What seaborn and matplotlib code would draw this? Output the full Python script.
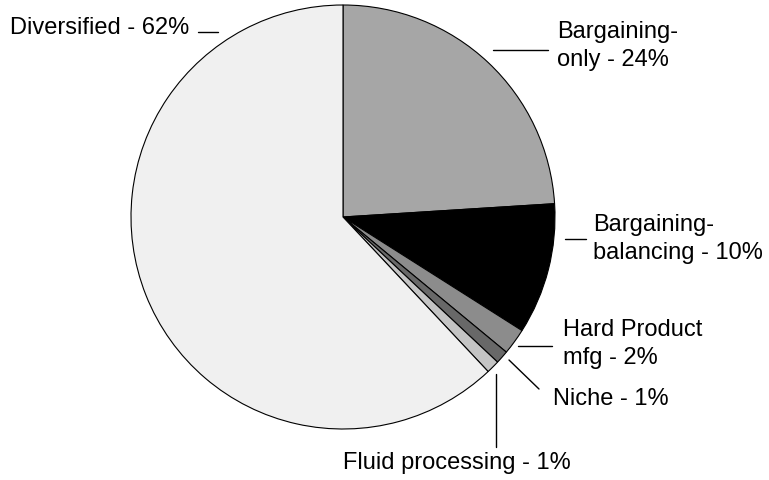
import matplotlib
matplotlib.use("Agg")
import matplotlib.pyplot as plt
import seaborn as sns

# Dados
categorias = ["Bargaining-\nonly", "Bargaining-\nbalancing", "Hard Product\nmfg",
              "Niche", "Fluid processing", "Diversified"]
percentuais = [24, 10, 2, 1, 1, 62]
cores = ["#a6a6a6", "#000000", "#8c8c8c", "#686868", "#c4c4c4", "#f0f0f0"]

sns.set_theme(style="white")
plt.rcParams["font.family"] = ["Liberation Sans", "DejaVu Sans"]

W, H = 769, 481
cx, cy, r = 343, 218, 212  # centro e raio em pixels


def px(x, y):
    # converte pixel da imagem para coordenadas de dados
    return (x - cx) / r, (cy - y) / r


fig = plt.figure(figsize=(W / 100, H / 100), dpi=100)
ax = fig.add_axes([0, 0, 1, 1])

ax.pie(percentuais, colors=cores, startangle=90, counterclock=False,
       wedgeprops=dict(edgecolor="black", linewidth=0.8))

ax.set_xlim(-cx / r, (W - cx) / r)
ax.set_ylim(-(H - cy) / r, cy / r)
ax.set_aspect("equal")
ax.axis("off")

# posições dos rótulos (texto, linha)
layout = [
    ((557, 46), ((493, 51), (548, 51))),
    ((593, 239), ((565, 240), (586, 240))),
    ((563, 344), ((518, 347), (552, 347))),
    ((553, 399), ((509, 361), (539, 390))),
    ((343, 463), ((496, 375), (496, 448))),
    ((10, 28), ((198, 33), (218, 33))),
]

for nome, pct, ((tx, ty), (p1, p2)) in zip(categorias, percentuais, layout):
    ax.text(*px(tx, ty), f"{nome} - {pct}%", fontsize=17, ha="left", va="center",
            linespacing=1.4, color="black")
    (x1, y1), (x2, y2) = px(*p1), px(*p2)
    ax.plot([x1, x2], [y1, y2], color="black", linewidth=1)

plt.savefig("out.png", dpi=100)
